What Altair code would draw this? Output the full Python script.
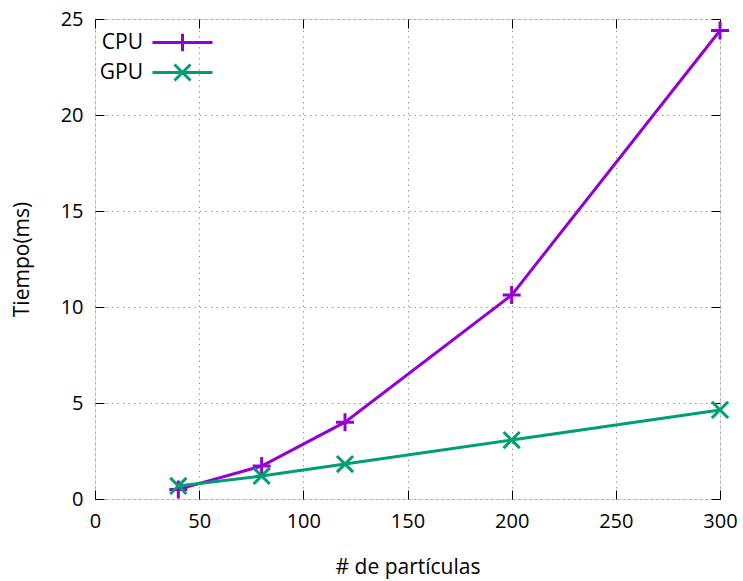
import altair as alt
import pandas as pd

particulas = [40, 80, 120, 200, 300]
cpu_ms = [0.5, 1.72, 4.0, 10.62, 24.4]
gpu_ms = [0.68, 1.2, 1.82, 3.07, 4.64]
series = ["CPU", "GPU"]
colores = ["#9400d3", "#009e73"]
x_ticks = [0, 50, 100, 150, 200, 250, 300]
y_ticks = [0, 5, 10, 15, 20, 25]

df = pd.DataFrame({
    "particulas": particulas * 2,
    "tiempo": cpu_ms + gpu_ms,
    "serie": ["CPU"] * len(particulas) + ["GPU"] * len(particulas),
})

FONT = "Open Sans"
xs = alt.Scale(domain=[0, 300], nice=False, zero=False)
ys = alt.Scale(domain=[0, 25], nice=False)
cs = alt.Scale(domain=series, range=colores)

marker_paths = ["M-1,0H1M0,-1V1", "M-0.9,-0.9L0.9,0.9M-0.9,0.9L0.9,-0.9"]
legend_paths = ["M-3,0H3M0,-0.87V0.87", "M-3,0H3M-0.8,-0.8L0.8,0.8M-0.8,0.8L0.8,-0.8"]

grid_kw = dict(grid=True, gridDash=[1.5, 4], gridColor="#9a9a9a", gridWidth=1)

x_main = alt.Axis(orient="bottom", values=x_ticks, title="# de partículas", domain=False,
                  ticks=False, tickSize=0, labelPadding=12, labelFontSize=20, titleFontSize=21,
                  labelColor="black", titleColor="black", titleFontWeight="normal",
                  labelFlush=False, labelOverlap=False,
                  titleX=312.5, titleY=68, titleBaseline="middle", labelFont=FONT, titleFont=FONT,
                  **grid_kw)
y_main = alt.Axis(orient="left", values=y_ticks, title="Tiempo(ms)", domain=False,
                  ticks=False, tickSize=0, labelPadding=12, labelFontSize=20, titleFontSize=21,
                  labelColor="black", titleColor="black", titleFontWeight="normal",
                  labelFlush=False, labelOverlap=False,
                  titleX=-73, titleY=240, titleAngle=270, titleBaseline="middle", titleAlign="center",
                  labelBaseline="middle", labelFont=FONT, titleFont=FONT, **grid_kw)

def tick_axis(orient, vals):
    return alt.Axis(orient=orient, values=vals, title=None, domain=False, labels=False,
                    ticks=True, tickSize=9, tickColor="black", tickWidth=1, offset=-9, grid=False)

lines = alt.Chart(df).mark_line(strokeWidth=3).encode(
    x=alt.X("particulas:Q", scale=xs, axis=x_main),
    y=alt.Y("tiempo:Q", scale=ys, axis=y_main),
    color=alt.Color("serie:N", scale=cs, legend=None),
    detail="serie:N",
)

points = alt.Chart(df).transform_calculate(marca="datum.serie").mark_point(
    filled=False, strokeWidth=3, size=324, opacity=1
).encode(
    x=alt.X("particulas:Q", scale=xs, axis=tick_axis("bottom", x_ticks)),
    y=alt.Y("tiempo:Q", scale=ys, axis=tick_axis("left", y_ticks)),
    color=alt.Color("serie:N", scale=cs, legend=None),
    shape=alt.Shape("marca:N", scale=alt.Scale(domain=series, range=marker_paths), legend=None),
)

leg = alt.Legend(title=None, orient="none", legendX=76, legendY=12, symbolSize=400,
                 symbolStrokeWidth=3, labelOffset={"expr": "-51"}, labelAlign="right", labelFontSize=21,
                 labelFont=FONT, labelColor="black", rowPadding=0, padding=0,
                 symbolOpacity=1, symbolFillColor="transparent",
                 symbolStrokeColor={"expr": "scale('color', datum.value)"})

legend_layer = alt.Chart(df).transform_filter("false").mark_point(
    filled=False, strokeWidth=3, opacity=1
).encode(
    x=alt.X("particulas:Q", scale=xs, axis=tick_axis("top", x_ticks)),
    y=alt.Y("tiempo:Q", scale=ys, axis=tick_axis("right", y_ticks)),
    color=alt.Color("serie:N", scale=cs, legend=leg),
    shape=alt.Shape("serie:N", scale=alt.Scale(domain=series, range=legend_paths), legend=leg),
)

chart = alt.layer(lines, points, legend_layer).resolve_axis(
    x="independent", y="independent"
).resolve_scale(shape="independent").properties(
    width=625, height=480,
    autosize=alt.AutoSizeParams(type="none"),
    padding={"left": 95, "top": 19, "right": 23, "bottom": 82},
).configure_view(stroke="black", strokeWidth=1.5).configure(font=FONT)

chart.save("out.html", embed_options={"renderer": "svg", "actions": False})
